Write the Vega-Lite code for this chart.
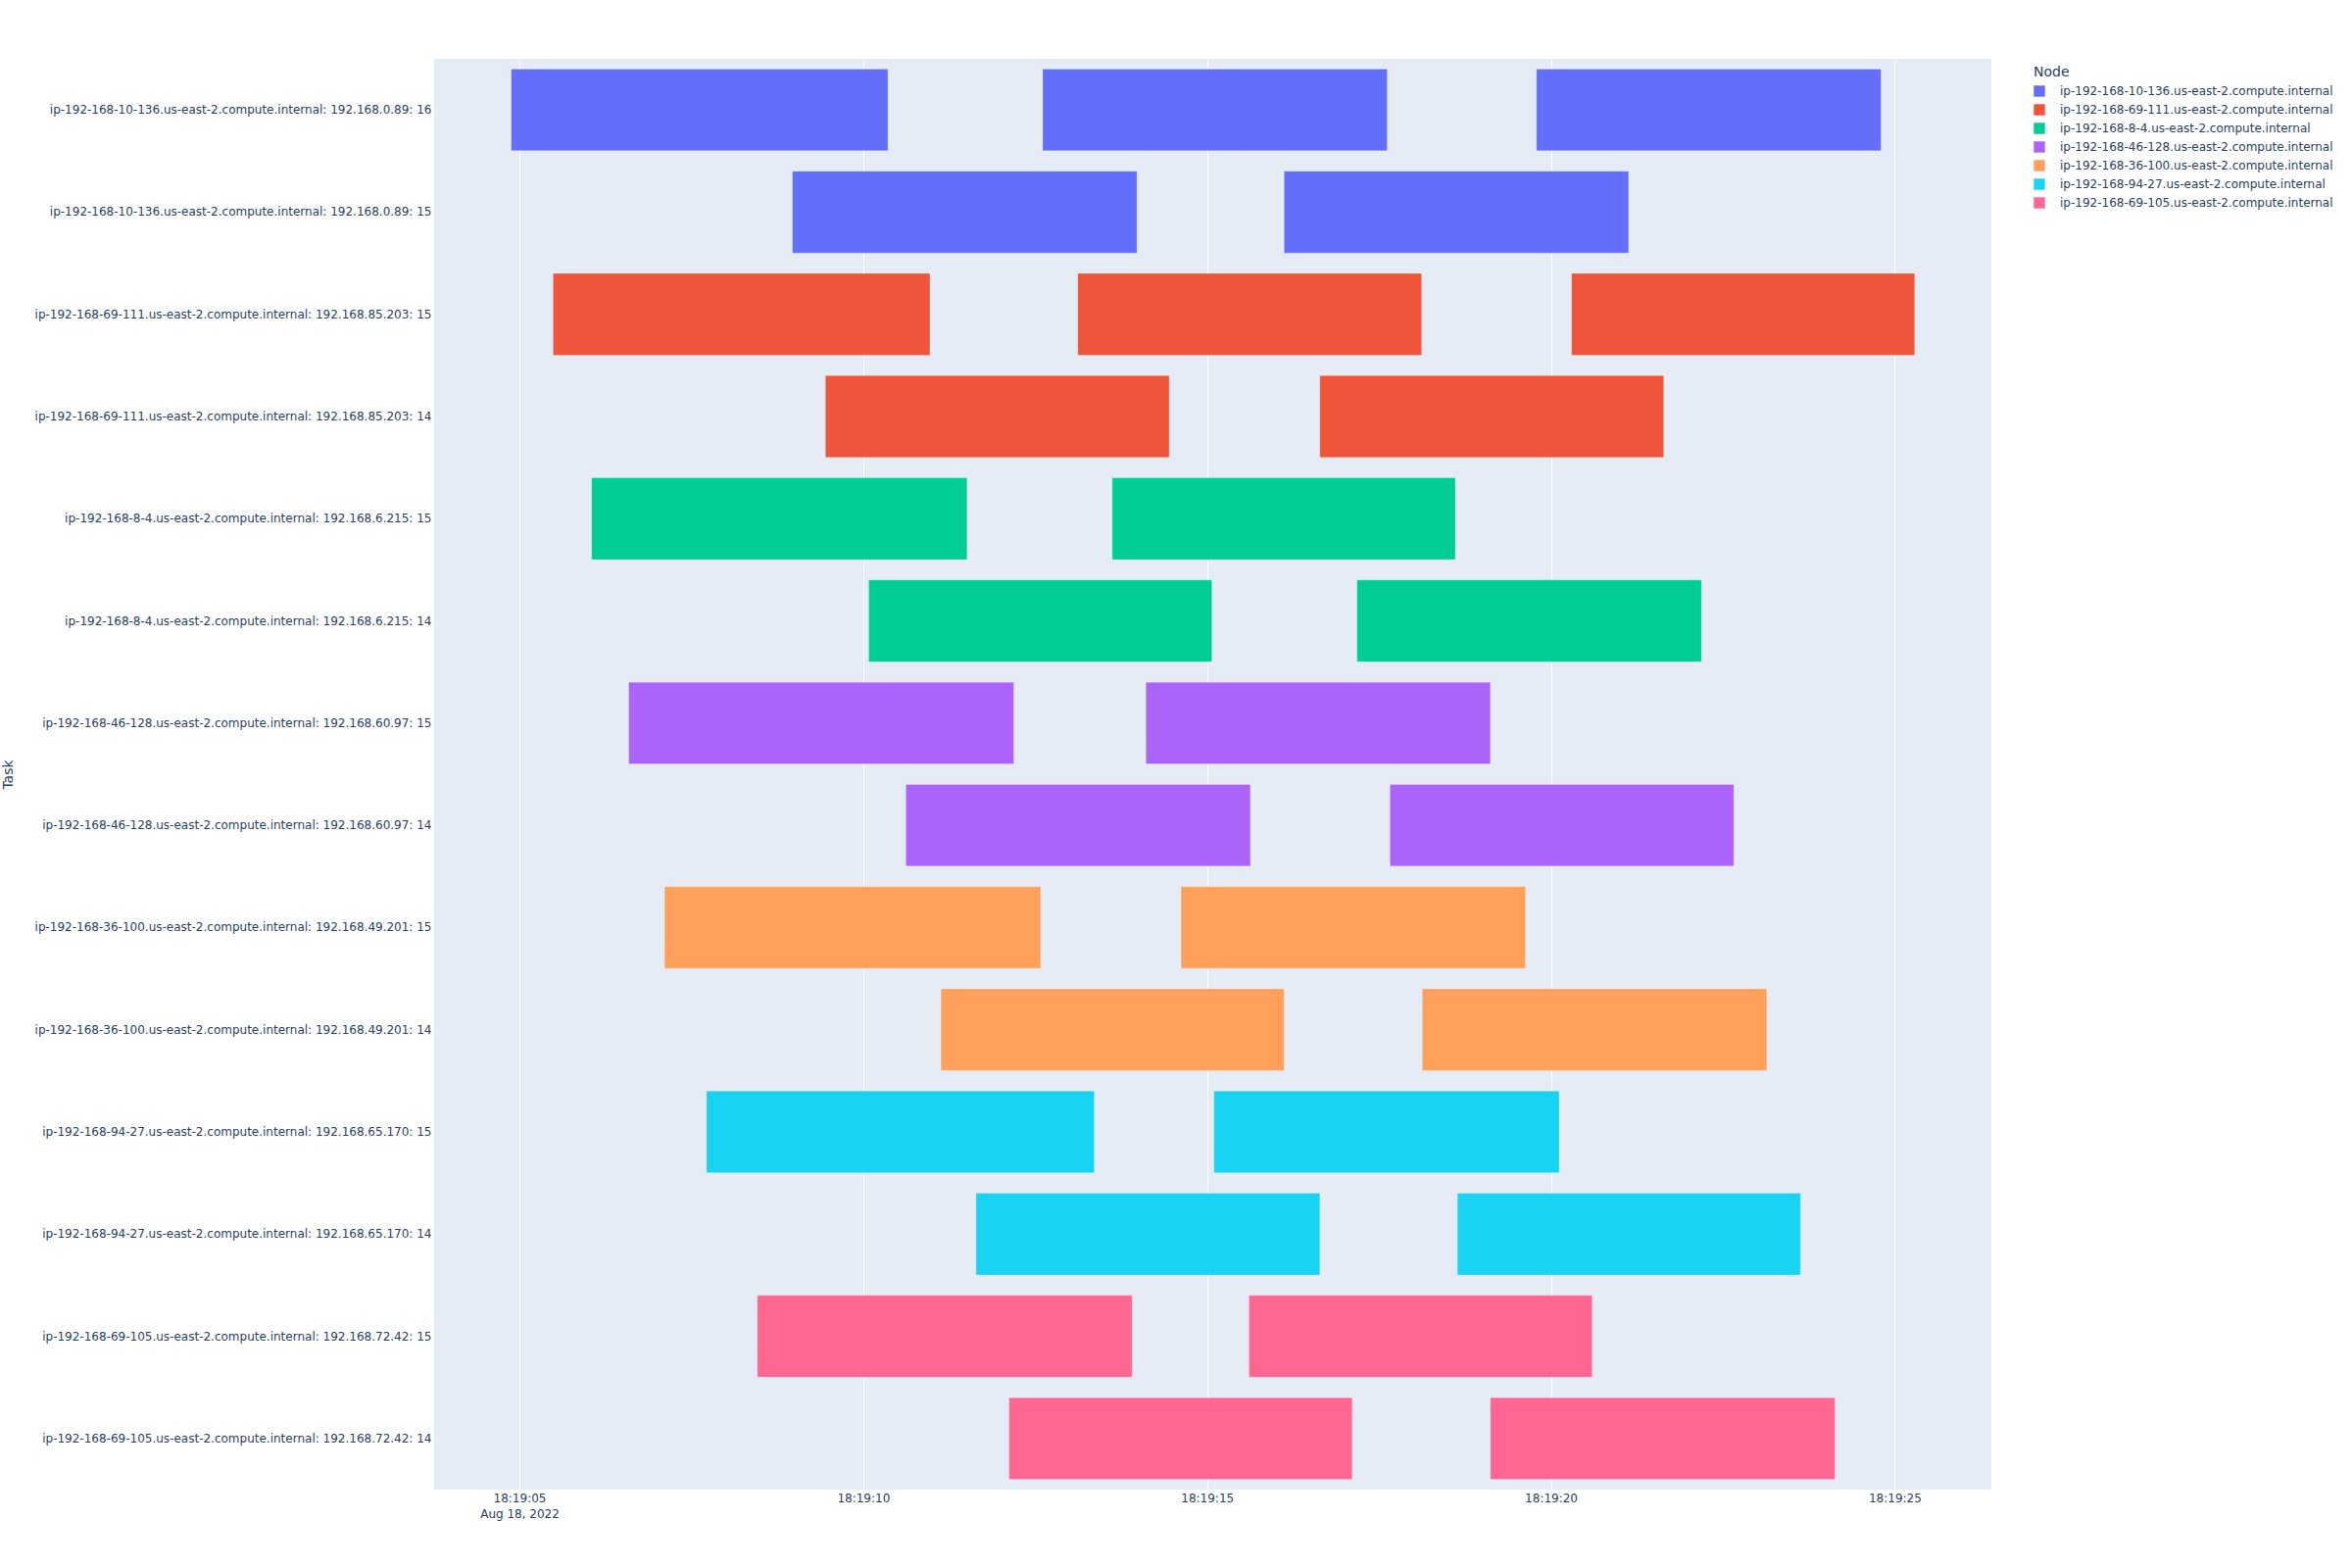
{
  "$schema": "https://vega.github.io/schema/vega-lite/v6.json",
  "width": 1589,
  "height": 1460,
  "autosize": {"type": "none"},
  "padding": {"left": 443, "top": 60, "right": 368, "bottom": 80},
  "background": "white",
  "config": {
    "view": {"stroke": null, "fill": "#E5ECF6"},
    "font": "DejaVu Sans",
    "axis": {"labelColor": "#2a3f5f", "titleColor": "#2a3f5f", "labelFont": "DejaVu Sans", "titleFont": "DejaVu Sans", "labelFontSize": 12, "titleFontWeight": "normal", "domain": false, "ticks": false},
    "legend": {"labelColor": "#2a3f5f", "titleColor": "#2a3f5f", "labelFont": "DejaVu Sans", "titleFont": "DejaVu Sans"}
  },
  "data": {
    "values": [
      {"Task": "ip-192-168-10-136.us-east-2.compute.internal: 192.168.0.89: 16", "Node": "ip-192-168-10-136.us-east-2.compute.internal", "Start": "2022-08-18T18:19:04.880", "Finish": "2022-08-18T18:19:10.360"},
      {"Task": "ip-192-168-10-136.us-east-2.compute.internal: 192.168.0.89: 16", "Node": "ip-192-168-10-136.us-east-2.compute.internal", "Start": "2022-08-18T18:19:12.610", "Finish": "2022-08-18T18:19:17.620"},
      {"Task": "ip-192-168-10-136.us-east-2.compute.internal: 192.168.0.89: 16", "Node": "ip-192-168-10-136.us-east-2.compute.internal", "Start": "2022-08-18T18:19:19.790", "Finish": "2022-08-18T18:19:24.800"},
      {"Task": "ip-192-168-10-136.us-east-2.compute.internal: 192.168.0.89: 15", "Node": "ip-192-168-10-136.us-east-2.compute.internal", "Start": "2022-08-18T18:19:08.970", "Finish": "2022-08-18T18:19:13.980"},
      {"Task": "ip-192-168-10-136.us-east-2.compute.internal: 192.168.0.89: 15", "Node": "ip-192-168-10-136.us-east-2.compute.internal", "Start": "2022-08-18T18:19:16.120", "Finish": "2022-08-18T18:19:21.130"},
      {"Task": "ip-192-168-69-111.us-east-2.compute.internal: 192.168.85.203: 15", "Node": "ip-192-168-69-111.us-east-2.compute.internal", "Start": "2022-08-18T18:19:05.490", "Finish": "2022-08-18T18:19:10.970"},
      {"Task": "ip-192-168-69-111.us-east-2.compute.internal: 192.168.85.203: 15", "Node": "ip-192-168-69-111.us-east-2.compute.internal", "Start": "2022-08-18T18:19:13.120", "Finish": "2022-08-18T18:19:18.120"},
      {"Task": "ip-192-168-69-111.us-east-2.compute.internal: 192.168.85.203: 15", "Node": "ip-192-168-69-111.us-east-2.compute.internal", "Start": "2022-08-18T18:19:20.300", "Finish": "2022-08-18T18:19:25.290"},
      {"Task": "ip-192-168-69-111.us-east-2.compute.internal: 192.168.85.203: 14", "Node": "ip-192-168-69-111.us-east-2.compute.internal", "Start": "2022-08-18T18:19:09.450", "Finish": "2022-08-18T18:19:14.450"},
      {"Task": "ip-192-168-69-111.us-east-2.compute.internal: 192.168.85.203: 14", "Node": "ip-192-168-69-111.us-east-2.compute.internal", "Start": "2022-08-18T18:19:16.640", "Finish": "2022-08-18T18:19:21.640"},
      {"Task": "ip-192-168-8-4.us-east-2.compute.internal: 192.168.6.215: 15", "Node": "ip-192-168-8-4.us-east-2.compute.internal", "Start": "2022-08-18T18:19:06.050", "Finish": "2022-08-18T18:19:11.510"},
      {"Task": "ip-192-168-8-4.us-east-2.compute.internal: 192.168.6.215: 15", "Node": "ip-192-168-8-4.us-east-2.compute.internal", "Start": "2022-08-18T18:19:13.620", "Finish": "2022-08-18T18:19:18.610"},
      {"Task": "ip-192-168-8-4.us-east-2.compute.internal: 192.168.6.215: 14", "Node": "ip-192-168-8-4.us-east-2.compute.internal", "Start": "2022-08-18T18:19:10.080", "Finish": "2022-08-18T18:19:15.070"},
      {"Task": "ip-192-168-8-4.us-east-2.compute.internal: 192.168.6.215: 14", "Node": "ip-192-168-8-4.us-east-2.compute.internal", "Start": "2022-08-18T18:19:17.180", "Finish": "2022-08-18T18:19:22.190"},
      {"Task": "ip-192-168-46-128.us-east-2.compute.internal: 192.168.60.97: 15", "Node": "ip-192-168-46-128.us-east-2.compute.internal", "Start": "2022-08-18T18:19:06.590", "Finish": "2022-08-18T18:19:12.190"},
      {"Task": "ip-192-168-46-128.us-east-2.compute.internal: 192.168.60.97: 15", "Node": "ip-192-168-46-128.us-east-2.compute.internal", "Start": "2022-08-18T18:19:14.110", "Finish": "2022-08-18T18:19:19.120"},
      {"Task": "ip-192-168-46-128.us-east-2.compute.internal: 192.168.60.97: 14", "Node": "ip-192-168-46-128.us-east-2.compute.internal", "Start": "2022-08-18T18:19:10.620", "Finish": "2022-08-18T18:19:15.630"},
      {"Task": "ip-192-168-46-128.us-east-2.compute.internal: 192.168.60.97: 14", "Node": "ip-192-168-46-128.us-east-2.compute.internal", "Start": "2022-08-18T18:19:17.660", "Finish": "2022-08-18T18:19:22.660"},
      {"Task": "ip-192-168-36-100.us-east-2.compute.internal: 192.168.49.201: 15", "Node": "ip-192-168-36-100.us-east-2.compute.internal", "Start": "2022-08-18T18:19:07.110", "Finish": "2022-08-18T18:19:12.580"},
      {"Task": "ip-192-168-36-100.us-east-2.compute.internal: 192.168.49.201: 15", "Node": "ip-192-168-36-100.us-east-2.compute.internal", "Start": "2022-08-18T18:19:14.620", "Finish": "2022-08-18T18:19:19.630"},
      {"Task": "ip-192-168-36-100.us-east-2.compute.internal: 192.168.49.201: 14", "Node": "ip-192-168-36-100.us-east-2.compute.internal", "Start": "2022-08-18T18:19:11.130", "Finish": "2022-08-18T18:19:16.120"},
      {"Task": "ip-192-168-36-100.us-east-2.compute.internal: 192.168.49.201: 14", "Node": "ip-192-168-36-100.us-east-2.compute.internal", "Start": "2022-08-18T18:19:18.130", "Finish": "2022-08-18T18:19:23.140"},
      {"Task": "ip-192-168-94-27.us-east-2.compute.internal: 192.168.65.170: 15", "Node": "ip-192-168-94-27.us-east-2.compute.internal", "Start": "2022-08-18T18:19:07.720", "Finish": "2022-08-18T18:19:13.360"},
      {"Task": "ip-192-168-94-27.us-east-2.compute.internal: 192.168.65.170: 15", "Node": "ip-192-168-94-27.us-east-2.compute.internal", "Start": "2022-08-18T18:19:15.100", "Finish": "2022-08-18T18:19:20.120"},
      {"Task": "ip-192-168-94-27.us-east-2.compute.internal: 192.168.65.170: 14", "Node": "ip-192-168-94-27.us-east-2.compute.internal", "Start": "2022-08-18T18:19:11.640", "Finish": "2022-08-18T18:19:16.640"},
      {"Task": "ip-192-168-94-27.us-east-2.compute.internal: 192.168.65.170: 14", "Node": "ip-192-168-94-27.us-east-2.compute.internal", "Start": "2022-08-18T18:19:18.640", "Finish": "2022-08-18T18:19:23.630"},
      {"Task": "ip-192-168-69-105.us-east-2.compute.internal: 192.168.72.42: 15", "Node": "ip-192-168-69-105.us-east-2.compute.internal", "Start": "2022-08-18T18:19:08.460", "Finish": "2022-08-18T18:19:13.910"},
      {"Task": "ip-192-168-69-105.us-east-2.compute.internal: 192.168.72.42: 15", "Node": "ip-192-168-69-105.us-east-2.compute.internal", "Start": "2022-08-18T18:19:15.610", "Finish": "2022-08-18T18:19:20.600"},
      {"Task": "ip-192-168-69-105.us-east-2.compute.internal: 192.168.72.42: 14", "Node": "ip-192-168-69-105.us-east-2.compute.internal", "Start": "2022-08-18T18:19:12.120", "Finish": "2022-08-18T18:19:17.110"},
      {"Task": "ip-192-168-69-105.us-east-2.compute.internal: 192.168.72.42: 14", "Node": "ip-192-168-69-105.us-east-2.compute.internal", "Start": "2022-08-18T18:19:19.120", "Finish": "2022-08-18T18:19:24.130"}
    ]
  },
  "mark": {"type": "bar", "stroke": "white", "strokeWidth": 0.5, "strokeOpacity": 0.5},
  "encoding": {
    "x": {
      "field": "Start",
      "type": "temporal",
      "scale": {"domain": [
        {"year": 2022, "month": 8, "date": 18, "hours": 18, "minutes": 19, "seconds": 3, "milliseconds": 760},
        {"year": 2022, "month": 8, "date": 18, "hours": 18, "minutes": 19, "seconds": 26, "milliseconds": 405}
      ]},
      "axis": {
        "title": null,
        "grid": true,
        "gridColor": "white",
        "gridWidth": 1,
        "tickCount": 5,
        "labelPadding": 3,
        "labelLineHeight": 16,
        "labelExpr": "datum.index == 0 ? [timeFormat(datum.value, '%H:%M:%S'), timeFormat(datum.value, '%b %d, %Y')] : timeFormat(datum.value, '%H:%M:%S')"
      }
    },
    "x2": {"field": "Finish"},
    "y": {
      "field": "Task",
      "type": "nominal",
      "sort": null,
      "scale": {"paddingInner": 0.2, "paddingOuter": 0.1},
      "axis": {
        "title": "Task",
        "titleFontSize": 14,
        "titleAngle": 270,
        "titleX": -435,
        "titleY": 730,
        "titleAlign": "center",
        "titleBaseline": "middle",
        "grid": false,
        "labelPadding": 3,
        "labelLimit": 0
      }
    },
    "color": {
      "field": "Node",
      "type": "nominal",
      "scale": {
        "domain": ["ip-192-168-10-136.us-east-2.compute.internal", "ip-192-168-69-111.us-east-2.compute.internal", "ip-192-168-8-4.us-east-2.compute.internal", "ip-192-168-46-128.us-east-2.compute.internal", "ip-192-168-36-100.us-east-2.compute.internal", "ip-192-168-94-27.us-east-2.compute.internal", "ip-192-168-69-105.us-east-2.compute.internal"],
        "range": ["#636EFA", "#EF553B", "#00CC96", "#AB63FA", "#FFA15A", "#19D3F3", "#FF6692"]
      },
      "legend": {
        "title": "Node",
        "orient": "none",
        "legendX": 1632,
        "legendY": 7,
        "titleFontSize": 14,
        "titleFontWeight": "normal",
        "titlePadding": 6,
        "labelFontSize": 12,
        "labelLimit": 0,
        "symbolType": "square",
        "symbolSize": 130,
        "symbolStrokeWidth": 0,
        "labelOffset": 15,
        "rowPadding": 7
      }
    }
  }
}
